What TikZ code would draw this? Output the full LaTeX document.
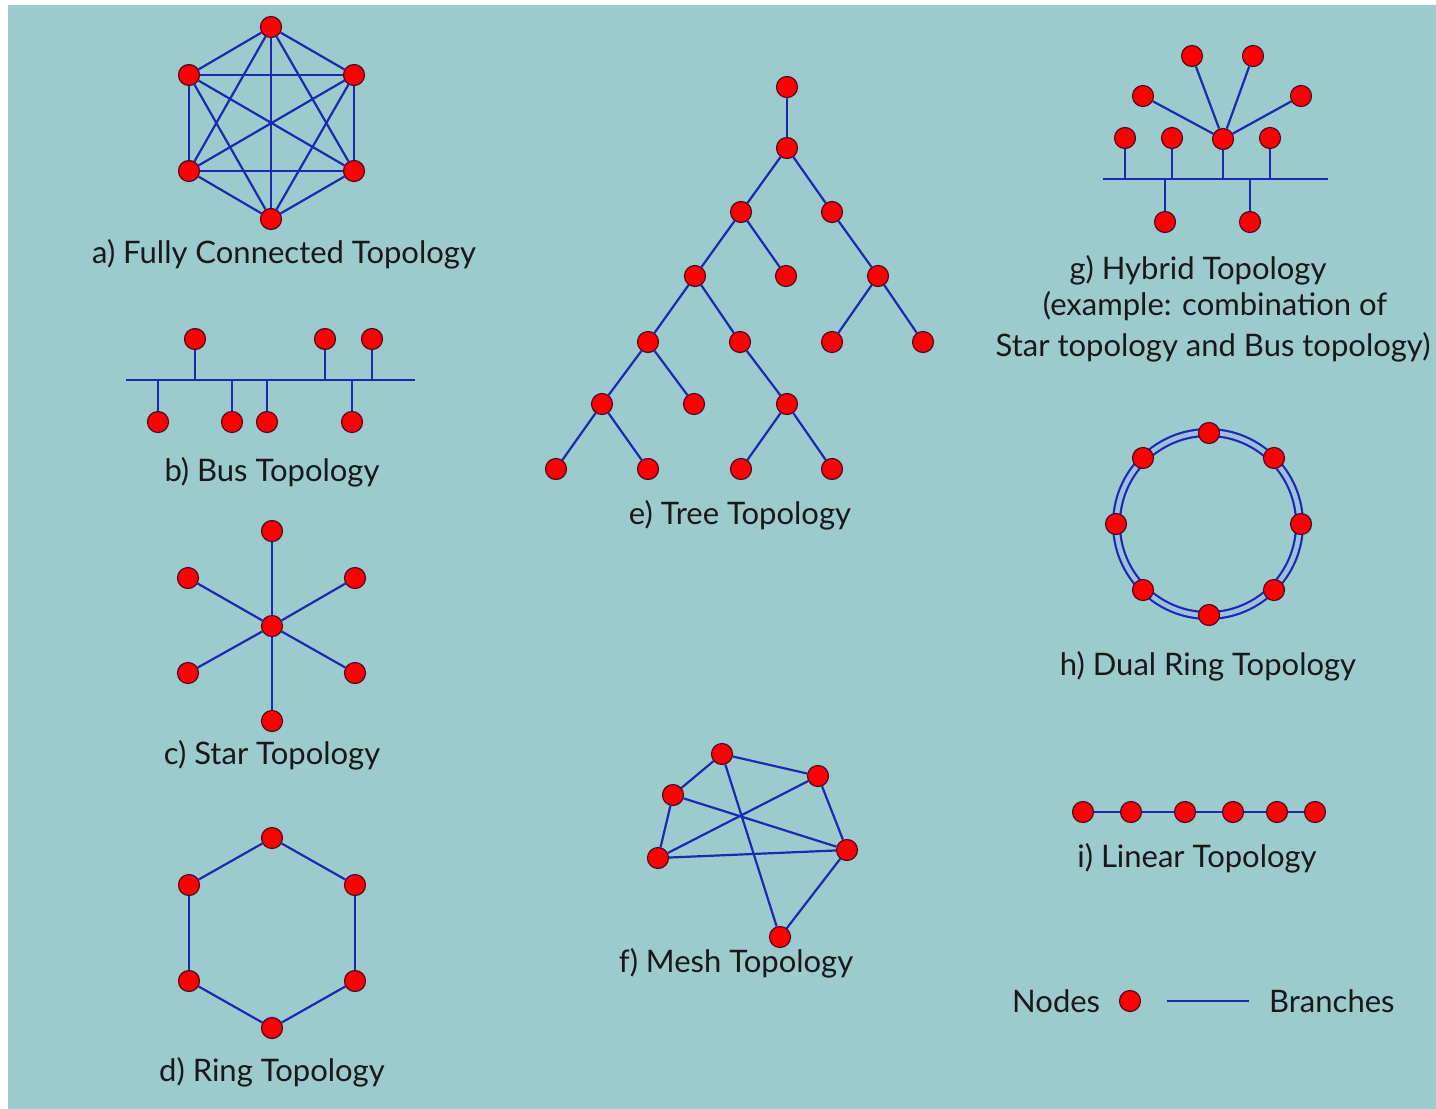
\documentclass[tikz,border=0pt]{standalone}
\usepackage{fontspec}
\setmainfont{Lato}
\definecolor{bgteal}{RGB}{155,203,204}
\definecolor{branchblue}{RGB}{28,42,178}
\definecolor{nodered}{RGB}{255,0,0}
\definecolor{nodeline}{RGB}{80,10,40}
\definecolor{txtcol}{RGB}{25,25,25}
\definecolor{gapblue}{RGB}{158,192,222}
\begin{document}
\begin{tikzpicture}[x=1pt,y=-1pt,
  nd/.style={circle,fill=nodered,draw=nodeline,line width=1.2pt,inner sep=0pt,minimum size=21pt},
  br/.style={draw=branchblue,line width=2.2pt},
  lbl/.style={text=txtcol,font=\fontsize{31}{38}\selectfont,inner sep=0pt,anchor=center,align=center}
]
\useasboundingbox (0,0) rectangle (1436,1109);
\fill[white] (0,0) rectangle (1436,1109);
\fill[bgteal] (8,5) rectangle (1436,1109);

% a) fully connected
\node[nd] (a1) at (271,27) {};
\node[nd] (a2) at (189,75) {};
\node[nd] (a3) at (354,75) {};
\node[nd] (a4) at (354,171) {};
\node[nd] (a5) at (271,219) {};
\node[nd] (a6) at (189,171) {};
\foreach \i/\j in {1/2,1/3,1/4,1/5,1/6,2/3,2/4,2/5,2/6,3/4,3/5,3/6,4/5,4/6,5/6}
  \draw[br] (a\i) -- (a\j);
\node[lbl] (la) at (284,254) {a) Fully Connected Topology};

% b) bus
\coordinate (bL) at (126,380);
\coordinate (bR) at (415,380);
\draw[br] (bL) -- (bR);
\node[nd] (b1) at (195,339) {};
\node[nd] (b2) at (325,339) {};
\node[nd] (b3) at (372,339) {};
\node[nd] (b4) at (158,422) {};
\node[nd] (b5) at (232,422) {};
\node[nd] (b6) at (267,422) {};
\node[nd] (b7) at (352,422) {};
\foreach \n in {b1,b2,b3,b4,b5,b6,b7}
  \draw[br] (\n) -- (\n |- bL);
\node[lbl] (lb) at (272,472) {b) Bus Topology};

% c) star
\node[nd] (c0) at (272,626) {};
\node[nd] (c1) at (272,531) {};
\node[nd] (c2) at (355,578) {};
\node[nd] (c3) at (355,673) {};
\node[nd] (c4) at (272,721) {};
\node[nd] (c5) at (188,673) {};
\node[nd] (c6) at (188,578) {};
\foreach \i in {1,...,6}
  \draw[br] (c0) -- (c\i);
\node[lbl] (lc) at (272,755) {c) Star Topology};

% d) ring
\node[nd] (d1) at (272,838) {};
\node[nd] (d2) at (355,885) {};
\node[nd] (d3) at (355,981) {};
\node[nd] (d4) at (272,1028) {};
\node[nd] (d5) at (189,981) {};
\node[nd] (d6) at (189,885) {};
\foreach \i/\j in {1/2,2/3,3/4,4/5,5/6,6/1}
  \draw[br] (d\i) -- (d\j);
\node[lbl] (ld) at (272,1072) {d) Ring Topology};

% e) tree
\node[nd] (e0) at (787,87) {};
\node[nd] (e1) at (787,148) {};
\node[nd] (e2) at (741,212) {};
\node[nd] (e3) at (832,212) {};
\node[nd] (e4) at (695,276) {};
\node[nd] (e5) at (786,276) {};
\node[nd] (e6) at (878,276) {};
\node[nd] (e7) at (832,342) {};
\node[nd] (e8) at (923,342) {};
\node[nd] (e9) at (648,342) {};
\node[nd] (e10) at (740,342) {};
\node[nd] (e11) at (602,404) {};
\node[nd] (e12) at (694,404) {};
\node[nd] (e13) at (787,404) {};
\node[nd] (e14) at (556,469) {};
\node[nd] (e15) at (648,469) {};
\node[nd] (e16) at (741,469) {};
\node[nd] (e17) at (832,469) {};
\foreach \i/\j in {0/1,1/2,1/3,2/4,2/5,3/6,6/7,6/8,4/9,4/10,9/11,9/12,10/13,11/14,11/15,13/16,13/17}
  \draw[br] (e\i) -- (e\j);
\node[lbl] (le) at (740,515) {e) Tree Topology};

% f) mesh
\node[nd] (fA) at (722,754) {};
\node[nd] (fB) at (818,776) {};
\node[nd] (fC) at (673,795) {};
\node[nd] (fD) at (658,858) {};
\node[nd] (fE) at (847,850) {};
\node[nd] (fF) at (780,937) {};
\foreach \i/\j in {A/B,A/C,C/D,B/E,D/E,E/F,A/F,C/E,D/B}
  \draw[br] (f\i) -- (f\j);
\node[lbl] (lf) at (736,963) {f) Mesh Topology};

% g) hybrid
\coordinate (gL) at (1103,179);
\coordinate (gR) at (1328,179);
\draw[br] (gL) -- (gR);
\node[nd] (g1) at (1125,138) {};
\node[nd] (g2) at (1172,138) {};
\node[nd] (gh) at (1223,139) {};
\node[nd] (g3) at (1270,138) {};
\node[nd] (g4) at (1165,222) {};
\node[nd] (g5) at (1250,222) {};
\foreach \n in {g1,g2,gh,g3,g4,g5}
  \draw[br] (\n) -- (\n |- gL);
\node[nd] (s1) at (1192,56) {};
\node[nd] (s2) at (1253,56) {};
\node[nd] (s3) at (1143,96) {};
\node[nd] (s4) at (1301,96) {};
\foreach \n in {s1,s2,s3,s4}
  \draw[br] (gh) -- (\n);
\node[lbl] (lg1) at (1198,270) {g) Hybrid Topology};
\node[lbl] (lg2) at (1215,306) {(example: combination of};
\node[lbl] (lg3) at (1213,347) {Star topology and Bus topology)};

% h) dual ring
\coordinate (hc) at (1208,524);
\draw[draw=branchblue,line width=9pt] (hc) circle[radius=91.5];
\draw[draw=gapblue,line width=4.6pt] (hc) circle[radius=91.5];
\node[nd] (h1) at (1209,433) {};
\node[nd] (h2) at (1274,458) {};
\node[nd] (h3) at (1301,524) {};
\node[nd] (h4) at (1274,590) {};
\node[nd] (h5) at (1209,615) {};
\node[nd] (h6) at (1143,590) {};
\node[nd] (h7) at (1116,524) {};
\node[nd] (h8) at (1143,458) {};
\node[lbl] (lh) at (1208,666) {h) Dual Ring Topology};

% i) linear
\node[nd] (i1) at (1083,812) {};
\node[nd] (i2) at (1131,812) {};
\node[nd] (i3) at (1185,812) {};
\node[nd] (i4) at (1233,812) {};
\node[nd] (i5) at (1277,812) {};
\node[nd] (i6) at (1315,812) {};
\foreach \i/\j in {1/2,2/3,3/4,4/5,5/6}
  \draw[br] (i\i) -- (i\j);
\node[lbl] (li) at (1197,858) {i) Linear Topology};

% legend
\node[lbl,anchor=west] (lnodes) at (1012,1001) {Nodes};
\node[nd] (lnd) at (1130,1001) {};
\coordinate (lb1) at (1167,1001);
\coordinate (lb2) at (1249,1001);
\draw[br] (lb1) -- (lb2);
\node[lbl,anchor=west] (lbranch) at (1269,1001) {Branches};
\end{tikzpicture}
\end{document}
